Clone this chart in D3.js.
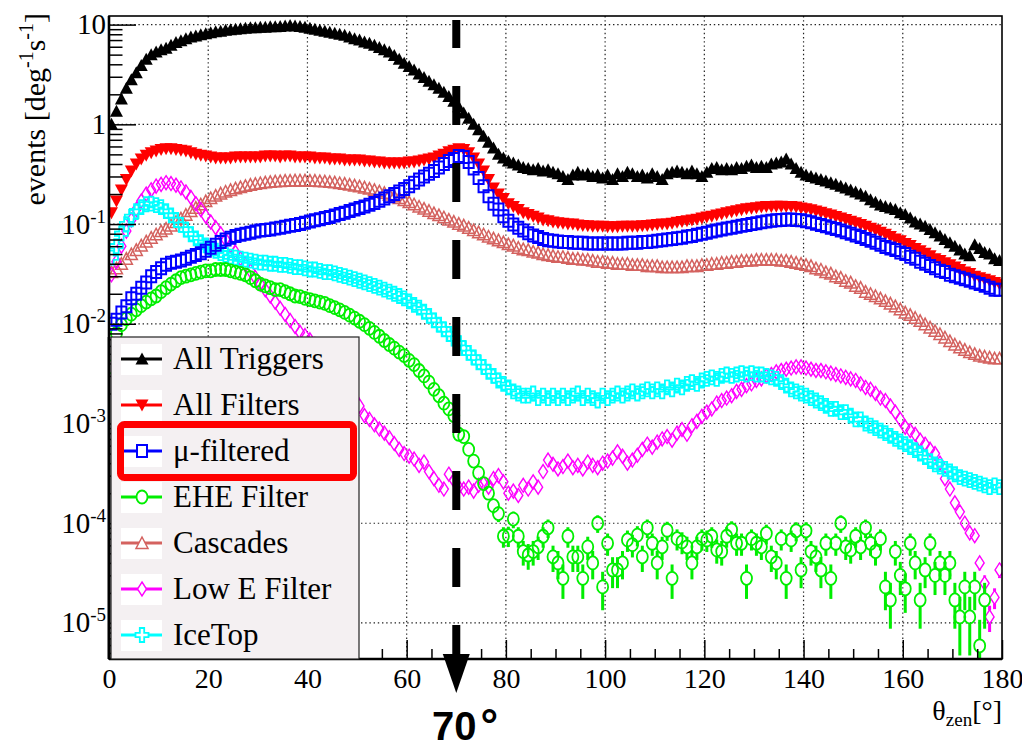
<!DOCTYPE html>
<html>
<head>
<meta charset="utf-8">
<script src="https://cdn.jsdelivr.net/npm/d3@7"></script>
<style>
  body { margin: 0; background: #fff; }
  svg { display: block; }
</style>
</head>
<body>
<svg id="chart" width="1022" height="749"></svg>
<script>
// rate per 1 deg zenith bin, bins 0-1, 1-2, ... 179-180
const allTriggers = [
  1.0, 1.35, 1.8, 2.3, 2.8, 3.3, 3.9, 4.5, 5.0, 5.3, 5.6,
  5.8, 6.2, 6.6, 6.9, 7.2, 7.5, 7.7, 7.9, 8.1, 8.3,
  8.5, 8.6, 8.8, 8.9, 9.0, 9.1, 9.2, 9.3, 9.3, 9.4,
  9.4, 9.5, 9.5, 9.6, 9.7, 9.8, 9.7, 9.6, 9.4, 9.2,
  9.0, 8.8, 8.6, 8.4, 8.2, 8.0, 7.8, 7.5, 7.2, 7.0,
  6.7, 6.5, 6.2, 5.9, 5.6, 5.3, 4.9, 4.5, 4.1, 3.8,
  3.5, 3.2, 2.95, 2.7, 2.5, 2.3, 2.1, 1.9, 1.7, 1.5,
  1.3, 1.15, 1.0, 0.88, 0.76, 0.66, 0.58, 0.5, 0.46, 0.43,
  0.41, 0.39, 0.37, 0.36, 0.35, 0.36, 0.34, 0.35, 0.33, 0.32,
  0.30, 0.28, 0.31, 0.33, 0.31, 0.32, 0.30, 0.31, 0.29, 0.31,
  0.28, 0.32, 0.30, 0.33, 0.32, 0.30, 0.31, 0.29, 0.32, 0.30,
  0.28, 0.32, 0.33, 0.34, 0.33, 0.32, 0.34, 0.32, 0.30, 0.33,
  0.36, 0.37, 0.35, 0.36, 0.35, 0.37, 0.36, 0.38, 0.39, 0.37,
  0.38, 0.37, 0.40, 0.41, 0.42, 0.45, 0.40, 0.36, 0.33, 0.31,
  0.30, 0.29, 0.28, 0.27, 0.26, 0.25, 0.24, 0.23, 0.22, 0.21,
  0.20, 0.19, 0.175, 0.165, 0.155, 0.15, 0.145, 0.14, 0.13, 0.125,
  0.115, 0.105, 0.10, 0.095, 0.088, 0.082, 0.076, 0.07, 0.065, 0.06,
  0.055, 0.05, 0.048, 0.062, 0.057, 0.052, 0.05, 0.045, 0.043
];

const allFilters = [
  0.13, 0.17, 0.22, 0.28, 0.34, 0.40, 0.45, 0.49, 0.52, 0.54, 0.56,
  0.57, 0.57, 0.56, 0.55, 0.54, 0.52, 0.50, 0.49, 0.48, 0.47,
  0.46, 0.46, 0.46, 0.46, 0.47, 0.47, 0.47, 0.47, 0.47, 0.47,
  0.48, 0.48, 0.48, 0.47, 0.48, 0.48, 0.47, 0.47, 0.47, 0.47,
  0.46, 0.46, 0.46, 0.45, 0.45, 0.45, 0.44, 0.44, 0.44, 0.44,
  0.43, 0.43, 0.42, 0.42, 0.41, 0.41, 0.41, 0.41, 0.41, 0.42,
  0.42, 0.43, 0.44, 0.45, 0.46, 0.48, 0.50, 0.53, 0.55, 0.57,
  0.56, 0.52, 0.46, 0.40, 0.34, 0.28, 0.23, 0.20, 0.18, 0.16,
  0.15, 0.14, 0.13, 0.125, 0.12, 0.115, 0.11, 0.108, 0.105, 0.103,
  0.102, 0.10, 0.10, 0.098, 0.097, 0.096, 0.095, 0.095, 0.095, 0.094,
  0.094, 0.094, 0.095, 0.095, 0.095, 0.095, 0.096, 0.097, 0.098, 0.099,
  0.10, 0.10, 0.102, 0.104, 0.106, 0.108, 0.11, 0.112, 0.115, 0.118,
  0.12, 0.123, 0.126, 0.13, 0.133, 0.136, 0.139, 0.142, 0.144, 0.146,
  0.148, 0.15, 0.15, 0.151, 0.151, 0.15, 0.15, 0.148, 0.145, 0.142,
  0.139, 0.135, 0.131, 0.127, 0.123, 0.119, 0.115, 0.111, 0.107, 0.103,
  0.099, 0.095, 0.091, 0.087, 0.083, 0.079, 0.075, 0.071, 0.068, 0.064,
  0.061, 0.057, 0.054, 0.051, 0.048, 0.045, 0.043, 0.041, 0.039, 0.037,
  0.035, 0.033, 0.032, 0.030, 0.029, 0.028, 0.027, 0.026, 0.025
];

const muFiltered = [
  0.010, 0.011, 0.013, 0.015, 0.018, 0.020, 0.023, 0.026, 0.030, 0.033, 0.036,
  0.039, 0.041, 0.042, 0.043, 0.045, 0.047, 0.049, 0.051, 0.054, 0.058,
  0.062, 0.066, 0.070, 0.073, 0.076, 0.078, 0.080, 0.082, 0.084, 0.086,
  0.087, 0.088, 0.090, 0.092, 0.094, 0.096, 0.098, 0.100, 0.103, 0.106,
  0.109, 0.112, 0.115, 0.118, 0.122, 0.126, 0.130, 0.135, 0.140, 0.145,
  0.150, 0.156, 0.163, 0.171, 0.180, 0.190, 0.200, 0.212, 0.225, 0.24,
  0.26, 0.28, 0.30, 0.32, 0.34, 0.37, 0.40, 0.43, 0.45, 0.48,
  0.47, 0.42, 0.36, 0.29, 0.24, 0.19, 0.16, 0.14, 0.12, 0.108,
  0.099, 0.092, 0.086, 0.081, 0.077, 0.074, 0.071, 0.069, 0.068, 0.067,
  0.066, 0.066, 0.065, 0.065, 0.065, 0.064, 0.064, 0.064, 0.064, 0.064,
  0.064, 0.064, 0.064, 0.065, 0.065, 0.065, 0.066, 0.066, 0.067, 0.068,
  0.069, 0.070, 0.071, 0.072, 0.073, 0.075, 0.076, 0.078, 0.080, 0.082,
  0.084, 0.086, 0.088, 0.090, 0.092, 0.094, 0.096, 0.098, 0.100, 0.102,
  0.104, 0.106, 0.108, 0.109, 0.110, 0.111, 0.111, 0.110, 0.109, 0.107,
  0.104, 0.101, 0.098, 0.095, 0.092, 0.089, 0.086, 0.083, 0.080, 0.077,
  0.074, 0.071, 0.068, 0.065, 0.062, 0.059, 0.057, 0.055, 0.052, 0.050,
  0.047, 0.045, 0.042, 0.040, 0.038, 0.036, 0.034, 0.033, 0.031, 0.030,
  0.029, 0.028, 0.027, 0.026, 0.025, 0.024, 0.023, 0.022, 0.022
];

const eheFilter = [
  0.0037, 0.0080, 0.0098, 0.0112, 0.0125, 0.0138, 0.0152, 0.0165, 0.0178, 0.019, 0.021,
  0.023, 0.025, 0.027, 0.029, 0.030, 0.031, 0.032, 0.033, 0.034, 0.034,
  0.035, 0.035, 0.035, 0.034, 0.033, 0.032, 0.031, 0.029, 0.027, 0.025,
  0.024, 0.023, 0.022, 0.022, 0.021, 0.020, 0.019, 0.0187, 0.018, 0.0175,
  0.017, 0.0165, 0.016, 0.0152, 0.0145, 0.0138, 0.0130, 0.0122, 0.0114, 0.0106,
  0.0098, 0.0090, 0.0082, 0.0075, 0.0068, 0.0062, 0.0057, 0.0052, 0.0048, 0.0043,
  0.0039, 0.0034, 0.0030, 0.0026, 0.0022, 0.0019, 0.0016, 0.0014, 0.0012, 0.00078,
  0.00074, 0.00055, 0.00042, 0.00032, 0.00025, 0.0002, 0.00015, 0.000125, 7.4e-5, 7.5e-5,
  1.1e-4, 7.4e-5, 5.2e-5, 4.8e-5, 5.2e-5, 5.8e-5, 7.4e-5, 9.0e-5, 4.6e-5, 4.0e-5,
  2.8e-5, 7.4e-5, 4.6e-5, 4.6e-5, 2.8e-5, 5.8e-5, 4.0e-5, 1.0e-4, 2.3e-5, 6.3e-5,
  3.4e-5, 3.4e-5, 4.0e-5, 6.8e-5, 6.1e-5, 7.6e-5, 4.6e-5, 9.0e-5, 6.3e-5, 4.0e-5,
  5.8e-5, 8.5e-5, 2.8e-5, 7.0e-5, 6.5e-5, 5.8e-5, 4.0e-5, 5.8e-5, 7.0e-5, 6.8e-5,
  7.4e-5, 5.4e-5, 5.2e-5, 7.4e-5, 8.6e-5, 6.3e-5, 6.3e-5, 2.8e-5, 7.0e-5, 6.3e-5,
  5.8e-5, 7.9e-5, 4.6e-5, 4.0e-5, 7.0e-5, 2.8e-5, 6.8e-5, 8.4e-5, 3.4e-5, 8.4e-5,
  5.2e-5, 4.6e-5, 3.4e-5, 6.3e-5, 2.8e-5, 6.3e-5, 1.0e-4, 5.8e-5, 5.4e-5, 7.4e-5,
  5.8e-5, 9.0e-5, 6.3e-5, 5.2e-5, 7.0e-5, 2.3e-5, 1.7e-5, 5.2e-5, 3.0e-5, 2.2e-5,
  6.3e-5, 4.0e-5, 1.7e-5, 3.4e-5, 6.3e-5, 3.0e-5, 4.0e-5, 3.0e-5, 4.0e-5, 1.7e-5,
  1.15e-5, 2.3e-5, 1.15e-5, 2.3e-5, 5.9e-6, 1.7e-5, 0, 0, 0
];

const cascades = [
  0.033, 0.036, 0.040, 0.045, 0.050, 0.055, 0.061, 0.067, 0.073, 0.079, 0.085,
  0.090, 0.097, 0.105, 0.114, 0.124, 0.135, 0.146, 0.158, 0.170, 0.182,
  0.193, 0.203, 0.212, 0.220, 0.228, 0.235, 0.242, 0.248, 0.253, 0.258,
  0.262, 0.265, 0.268, 0.270, 0.272, 0.273, 0.274, 0.274, 0.274, 0.273,
  0.272, 0.270, 0.268, 0.265, 0.262, 0.258, 0.254, 0.249, 0.244, 0.239,
  0.233, 0.227, 0.220, 0.213, 0.206, 0.198, 0.190, 0.182, 0.174, 0.166,
  0.158, 0.150, 0.143, 0.136, 0.129, 0.123, 0.117, 0.111, 0.106, 0.101,
  0.097, 0.092, 0.087, 0.083, 0.079, 0.075, 0.072, 0.069, 0.066, 0.063,
  0.061, 0.058, 0.056, 0.055, 0.053, 0.052, 0.050, 0.049, 0.048, 0.047,
  0.047, 0.046, 0.045, 0.045, 0.044, 0.044, 0.043, 0.042, 0.042, 0.041,
  0.041, 0.040, 0.040, 0.040, 0.039, 0.039, 0.039, 0.038, 0.038, 0.038,
  0.037, 0.037, 0.037, 0.037, 0.037, 0.038, 0.038, 0.038, 0.039, 0.039,
  0.040, 0.040, 0.041, 0.041, 0.042, 0.042, 0.043, 0.043, 0.043, 0.044,
  0.044, 0.044, 0.044, 0.044, 0.043, 0.043, 0.042, 0.041, 0.040, 0.039,
  0.038, 0.036, 0.035, 0.033, 0.032, 0.030, 0.029, 0.027, 0.026, 0.024,
  0.023, 0.021, 0.020, 0.019, 0.018, 0.017, 0.016, 0.015, 0.014, 0.013,
  0.0123, 0.0115, 0.0107, 0.0099, 0.0092, 0.0085, 0.0079, 0.0073, 0.0067, 0.0062,
  0.0058, 0.0055, 0.0052, 0.0050, 0.0048, 0.0047, 0.0046, 0.0045, 0.0045
];

const lowEFilter = [
  0.031, 0.042, 0.060, 0.085, 0.11, 0.14, 0.17, 0.20, 0.22, 0.24, 0.25,
  0.26, 0.255, 0.245, 0.23, 0.21, 0.185, 0.16, 0.14, 0.12, 0.105,
  0.092, 0.08, 0.07, 0.061, 0.052, 0.045, 0.039, 0.034, 0.029, 0.025,
  0.022, 0.019, 0.0165, 0.0143, 0.0124, 0.0108, 0.0094, 0.0082, 0.0076, 0.0069,
  0.0062, 0.0055, 0.0048, 0.0042, 0.0036, 0.0031, 0.0026, 0.0022, 0.0018, 0.0015,
  0.0012, 0.0011, 0.00097, 0.00088, 0.0008, 0.00072, 0.00063, 0.00055, 0.0005, 0.00047,
  0.00044, 0.00038, 0.00041, 0.00033, 0.00028, 0.00024, 0.00022, 0.00031, 0.00027, 0.00023,
  0.00022, 0.00023, 0.00021, 0.00024, 0.00025, 0.00023, 0.00028, 0.00030, 0.00026, 0.00020,
  0.00021, 0.00019, 0.00024, 0.00022, 0.00026, 0.00023, 0.00033, 0.00043, 0.00039, 0.00035,
  0.00037, 0.00042, 0.00036, 0.00038, 0.00035, 0.00041, 0.00038, 0.00036, 0.00040, 0.00042,
  0.00045, 0.00052, 0.00047, 0.00040, 0.00043, 0.00048, 0.00055, 0.00062, 0.00058, 0.00065,
  0.00070, 0.00074, 0.00068, 0.00080, 0.00087, 0.00078, 0.00095, 0.00105, 0.00118, 0.00130,
  0.0014, 0.0016, 0.0017, 0.0018, 0.0019, 0.0021, 0.0022, 0.0024, 0.0025, 0.0027,
  0.0028, 0.0030, 0.0031, 0.0033, 0.0034, 0.0035, 0.0036, 0.0037, 0.0037, 0.0036,
  0.0035, 0.0034, 0.0034, 0.0033, 0.0032, 0.0031, 0.0030, 0.0029, 0.0028, 0.0027,
  0.0025, 0.0023, 0.0022, 0.0020, 0.0018, 0.0017, 0.0015, 0.0013, 0.0011, 0.00092,
  0.00085, 0.00078, 0.00068, 0.00062, 0.00055, 0.00050, 0.00040, 0.00028, 0.00022, 0.00016,
  0.00013, 0.00010, 8e-5, 7.5e-5, 4e-5, 2.5e-5, 1.15e-5, 1.8e-5, 3.4e-5
];

const iceTop = [
  0.046, 0.060, 0.080, 0.100, 0.118, 0.135, 0.148, 0.158, 0.160, 0.155, 0.148,
  0.135, 0.122, 0.110, 0.098, 0.088, 0.079, 0.072, 0.066, 0.061, 0.057,
  0.054, 0.051, 0.049, 0.047, 0.046, 0.045, 0.044, 0.043, 0.042, 0.041,
  0.041, 0.040, 0.040, 0.039, 0.039, 0.038, 0.037, 0.037, 0.036, 0.035,
  0.035, 0.034, 0.033, 0.033, 0.032, 0.031, 0.030, 0.029, 0.028, 0.027,
  0.026, 0.025, 0.024, 0.023, 0.022, 0.021, 0.020, 0.019, 0.018, 0.0168,
  0.0155, 0.0145, 0.0132, 0.0120, 0.0108, 0.0098, 0.0088, 0.0079, 0.0071, 0.0064,
  0.0057, 0.0051, 0.0046, 0.0041, 0.0037, 0.0033, 0.0030, 0.0027, 0.0025, 0.0023,
  0.0021, 0.0020, 0.0019, 0.0019, 0.0020, 0.0018, 0.0019, 0.0018, 0.0019, 0.0018,
  0.0019, 0.0018, 0.0019, 0.0020, 0.0018, 0.0019, 0.0018, 0.0017, 0.0019, 0.0018,
  0.0019, 0.0020, 0.0019, 0.0020, 0.0021, 0.0020, 0.0021, 0.0022, 0.0021, 0.0022,
  0.0021, 0.0023, 0.0022, 0.0024, 0.0023, 0.0025, 0.0026, 0.0025, 0.0027, 0.0028,
  0.0029, 0.0028, 0.0030, 0.0031, 0.0030, 0.0031, 0.0032, 0.0031, 0.0032, 0.0031,
  0.0031, 0.0030, 0.0029, 0.0028, 0.0026, 0.0024, 0.0022, 0.0021, 0.0020, 0.0019,
  0.0018, 0.0017, 0.0016, 0.0015, 0.0014, 0.0014, 0.0013, 0.0013, 0.0012, 0.0011,
  0.0011, 0.0010, 0.00095, 0.00090, 0.00085, 0.00080, 0.00075, 0.00070, 0.00066, 0.00062,
  0.00058, 0.00054, 0.00050, 0.00046, 0.00042, 0.00039, 0.00037, 0.00035, 0.00033, 0.00031,
  0.00029, 0.00028, 0.00027, 0.00026, 0.00025, 0.00024, 0.00023, 0.00024, 0.00023
];

// per-event weight, used for the poisson error bars of the sparse filters
const EHE_WEIGHT = 4e-6;
const LOWE_WEIGHT = 1e-6;

const xTicks = [0, 20, 40, 60, 80, 100, 120, 140, 160, 180];
const yTicks = [10, 1, 1e-1, 1e-2, 1e-3, 1e-4, 1e-5];
const yTickExp = [null, null, "-1", "-2", "-3", "-4", "-5"];
const yTickBase = ["10", "1", "10", "10", "10", "10", "10"];

const SERIF = "font-family: 'Liberation Serif', 'Times New Roman', 'DejaVu Serif', serif";
const SANS = "font-family: 'Liberation Sans', Arial, 'DejaVu Sans', sans-serif";

const svg = d3.select("#chart");
const x = d3.scaleLinear().domain([0, 180]).range([109, 1002]);
const y = d3.scaleLog().domain([4.35e-6, 12.2]).range([659, 16]);
const X0 = 109, X1 = 1002, Y0 = 16, Y1 = 659;

svg.append("defs").append("clipPath").attr("id", "plot-clip")
  .append("rect").attr("x", X0).attr("y", Y0).attr("width", X1 - X0).attr("height", Y1 - Y0);

// grid (ROOT dotted)
const grid = svg.append("g").attr("stroke", "#222").attr("stroke-width", 1.2).attr("stroke-dasharray", "1.4 2.8");
grid.selectAll("line.gx").data(xTicks.filter(d => d > 0 && d < 180)).join("line")
  .attr("x1", d => x(d)).attr("x2", d => x(d)).attr("y1", Y0).attr("y2", Y1);
grid.selectAll("line.gy").data(yTicks).join("line")
  .attr("x1", X0).attr("x2", X1).attr("y1", d => y(d)).attr("y2", d => y(d));

// marker shapes, centred on 0,0
function markerPath(kind) {
  switch (kind) {
    case "triUp": return "M0,-6.5L6.5,5.5L-6.5,5.5Z";
    case "triDown": return "M0,6.5L6.5,-5.5L-6.5,-5.5Z";
    case "triUpOpen": return "M0,-6L6,5.5L-6,5.5Z";
    case "square": return "M-5,-6H5V6H-5Z";
    case "circle": return "M-5.5,0A5.5,6.5 0 1,0 5.5,0A5.5,6.5 0 1,0 -5.5,0Z";
    case "diamond": return "M0,-7L4.5,0L0,7L-4.5,0Z";
    case "cross": return "M-2.2,-7H2.2V-2.2H6.5V2.2H2.2V7H-2.2V2.2H-6.5V-2.2H-2.2Z";
  }
}

const series = [
  { name: "All Triggers", values: allTriggers, color: "#000000", marker: "triUp", filled: true },
  { name: "All Filters", values: allFilters, color: "#ff0000", marker: "triDown", filled: true },
  { name: "\u03bc-filtered", values: muFiltered, color: "#0000ff", marker: "square", width: 2 },
  { name: "EHE Filter", values: eheFilter, color: "#00ee00", marker: "circle", width: 1.8, weight: EHE_WEIGHT },
  { name: "Cascades", values: cascades, color: "#d4625f", marker: "triUpOpen", width: 1.5 },
  { name: "Low E Filter", values: lowEFilter, color: "#ff00ff", marker: "diamond", width: 1.4, weight: LOWE_WEIGHT },
  { name: "IceTop", values: iceTop, color: "#00ffff", marker: "cross", width: 1.8 }
];
const drawOrder = [0, 1, 4, 5, 6, 3, 2];

const plot = svg.append("g").attr("clip-path", "url(#plot-clip)");

drawOrder.forEach(si => {
  const s = series[si];
  const pts = s.values.map((v, i) => ({ x: i + 0.5, v })).filter(d => d.v > 0);
  const g = plot.append("g");
  if (s.weight) {
    const half = 6.5;
    const eb = g.append("g").attr("stroke", s.color).attr("stroke-width", 3);
    pts.forEach(d => {
      const err = Math.sqrt(d.v * s.weight);
      const yc = y(d.v);
      const yHi = y(d.v + err);
      const yLo = d.v - err > 4.35e-6 ? y(d.v - err) : Y1 + 2;
      if (yc - half > yHi) eb.append("line").attr("x1", x(d.x)).attr("x2", x(d.x)).attr("y1", yHi).attr("y2", yc - half);
      if (yLo > yc + half) eb.append("line").attr("x1", x(d.x)).attr("x2", x(d.x)).attr("y1", yc + half).attr("y2", yLo);
    });
  }
  g.selectAll("path").data(pts).join("path")
    .attr("d", markerPath(s.marker))
    .attr("transform", d => `translate(${x(d.x)},${y(d.v)})`)
    .attr("fill", s.filled ? s.color : "none")
    .attr("stroke", s.filled ? "none" : s.color)
    .attr("stroke-width", s.width || 0);
});

// axes: ROOT style ticks pointing inward
const xMajor = d3.axisBottom(x).tickValues(xTicks).tickSize(-19).tickPadding(9).tickFormat(d3.format("d"));
const xMinor = d3.axisBottom(x).tickValues(d3.range(0, 181, 5).filter(d => d % 20)).tickSize(-10).tickFormat("");
const gx = svg.append("g").attr("transform", `translate(0,${Y1})`);
gx.append("g").call(xMinor);
gx.append("g").call(xMajor);
gx.selectAll(".domain").remove();
gx.selectAll("line").attr("stroke", "#000").attr("stroke-width", 1.5);
gx.selectAll("text").attr("style", SERIF + "; font-size: 28px; fill: #000");

const yMinorVals = y.ticks(60).filter(d => Math.abs(Math.log10(d) - Math.round(Math.log10(d))) > 1e-6);
const gy = svg.append("g").attr("transform", `translate(${X0},0)`);
gy.append("g").call(d3.axisLeft(y).tickValues(yMinorVals).tickSize(-13.5).tickFormat(""));
gy.append("g").call(d3.axisLeft(y).tickValues(yTicks).tickSize(-27).tickFormat(""));
gy.selectAll(".domain").remove();
gy.selectAll("line").attr("stroke", "#000").attr("stroke-width", 1.5);

const yLab = svg.append("g");
yTicks.forEach((t, i) => {
  const txt = yLab.append("text").attr("x", 106).attr("y", y(t) + 9.5)
    .attr("text-anchor", "end").attr("style", SERIF + "; font-size: 29px");
  txt.append("tspan").text(yTickBase[i]);
  if (yTickExp[i]) txt.append("tspan").attr("dy", -11).attr("style", "font-size: 19px").text(yTickExp[i]);
});

// frame
svg.append("rect").attr("x", X0).attr("y", Y0).attr("width", X1 - X0).attr("height", Y1 - Y0)
  .attr("fill", "none").attr("stroke", "#000").attr("stroke-width", 1.6);
svg.append("line").attr("x1", X0).attr("x2", X0).attr("y1", Y0).attr("y2", Y1).attr("stroke", "#000").attr("stroke-width", 2.6);
svg.append("line").attr("x1", X0).attr("x2", X1).attr("y1", Y1).attr("y2", Y1).attr("stroke", "#000").attr("stroke-width", 2.4);

// axis titles
const yTitle = svg.append("text").attr("transform", "translate(45,13) rotate(-90)")
  .attr("text-anchor", "end").attr("style", SERIF + "; font-size: 30px");
yTitle.append("tspan").text("events [deg");
yTitle.append("tspan").attr("dy", -12).attr("style", "font-size: 20px").text("-1");
yTitle.append("tspan").attr("dy", 12).text("s");
yTitle.append("tspan").attr("dy", -12).attr("style", "font-size: 20px").text("-1");
yTitle.append("tspan").attr("dy", 12).text("]");

const xTitle = svg.append("text").attr("x", 1002).attr("y", 720).attr("text-anchor", "end")
  .attr("style", SERIF + "; font-size: 28px");
xTitle.append("tspan").text("\u03b8");
xTitle.append("tspan").attr("dy", 6).attr("style", "font-size: 19px").text("zen");
xTitle.append("tspan").attr("dy", -6).text("[\u00b0]");

// legend
const LX = 111, LY = 337, LW = 248, LH = Y1 - 337;
const leg = svg.append("g");
leg.append("rect").attr("x", LX).attr("y", LY).attr("width", LW).attr("height", LH)
  .attr("fill", "#f4f0f2").attr("stroke", "#222").attr("stroke-width", 1.2);
series.forEach((s, i) => {
  const cy = 359 + i * 46;
  const row = leg.append("g");
  row.append("rect").attr("x", 121).attr("y", cy - 15).attr("width", 41).attr("height", 31).attr("fill", "#fff");
  row.append("line").attr("x1", 121).attr("x2", 162).attr("y1", cy).attr("y2", cy)
    .attr("stroke", s.color).attr("stroke-width", 3);
  row.append("path").attr("d", markerPath(s.marker)).attr("transform", `translate(142,${cy})`)
    .attr("fill", s.filled ? s.color : "#fff").attr("stroke", s.filled ? "none" : s.color)
    .attr("stroke-width", s.width || 0);
  row.append("text").attr("x", 173).attr("y", cy + 10).attr("style", SERIF + "; font-size: 31px").text(s.name);
});
leg.append("line").attr("x1", X0).attr("x2", X0).attr("y1", LY).attr("y2", Y1).attr("stroke", "#000").attr("stroke-width", 2.6);

// highlight around the mu-filtered entry
svg.append("rect").attr("x", 120.5).attr("y", 424.5).attr("width", 233).attr("height", 53).attr("rx", 4)
  .attr("fill", "none").attr("stroke", "#ff0000").attr("stroke-width", 7);

// 70 deg cut: dashed line with arrow
const cut = 70;
svg.append("line").attr("x1", x(cut)).attr("x2", x(cut)).attr("y1", 20).attr("y2", 656)
  .attr("stroke", "#000").attr("stroke-width", 8).attr("stroke-dasharray", "39 38").attr("stroke-dashoffset", 11);
svg.append("path")
  .attr("d", `M${x(cut) - 13.5},654L${x(cut) + 13.5},654L${x(cut)},693Z`).attr("fill", "#000");
const cutLabel = svg.append("text").attr("x", 432).attr("y", 740)
  .attr("style", SANS + "; font-weight: bold; font-size: 40px");
cutLabel.append("tspan").text("70");
cutLabel.append("tspan").attr("dx", 4).attr("style", "font-size: 44px").text("\u00b0");
</script>
</body>
</html>
